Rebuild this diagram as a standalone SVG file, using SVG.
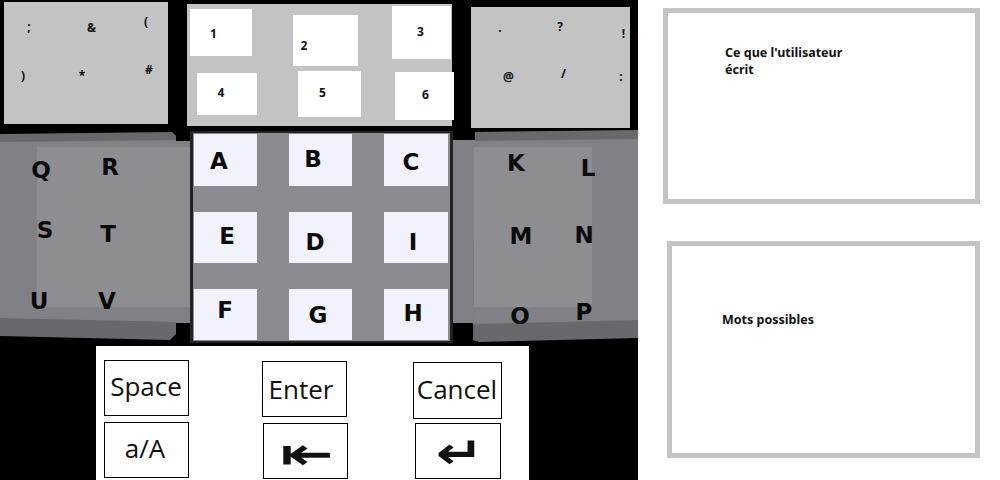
<svg xmlns="http://www.w3.org/2000/svg" width="1000" height="480" viewBox="0 0 1000 480">
<style>
.sym{font-family:"Noto Sans","Liberation Sans",sans-serif;font-weight:bold;font-size:12px;fill:#111;text-anchor:middle}
.num{font-family:"Noto Sans","Liberation Sans",sans-serif;font-weight:bold;font-size:12px;fill:#111;text-anchor:middle}
.key{font-family:"DejaVu Sans","Liberation Sans",sans-serif;font-weight:bold;font-size:23px;fill:#0a0a0a;text-anchor:middle}
.cell{fill:#f2f2fd}
.panel{fill:#c3c3c3}
.white{fill:#ffffff}
.btn{fill:#ffffff;stroke:#000;stroke-width:1}
.btxt{font-family:"Open Sans","Noto Sans",sans-serif;font-size:26px;fill:#111;text-anchor:middle}
.arrow{font-family:"DejaVu Sans",sans-serif;font-weight:bold;font-size:44px;fill:#111;text-anchor:middle}
.box{fill:#fff;stroke:#c4c4c4;stroke-width:5}
.lbl{font-family:"Noto Sans","Liberation Sans",sans-serif;font-weight:bold;font-size:12.5px;fill:#111}
.dark{fill:#68686d}
.mid{fill:#808086}
.light{fill:#8d8d92}
</style>
<rect x="0" y="0" width="1000" height="480" fill="#fff"/>
<rect x="0" y="0" width="638" height="480" fill="#000"/>

<g id="symbols-left">
<rect class="panel" x="4" y="2" width="164" height="122"/>
<text class="sym" x="29" y="31">;</text>
<text class="sym" x="91.5" y="32">&amp;</text>
<text class="sym" x="146" y="26">(</text>
<text class="sym" x="23" y="80">)</text>
<text class="sym" x="82" y="80">*</text>
<text class="sym" x="149" y="74">#</text>
</g>

<g id="numbers">
<rect class="panel" x="187" y="4" width="265" height="122"/>
<rect class="white" x="190" y="9" width="62" height="47"/>
<rect class="white" x="293" y="15" width="65" height="51"/>
<rect class="white" x="392" y="6" width="59" height="53"/>
<rect class="white" x="197" y="73" width="60" height="42"/>
<rect class="white" x="298" y="71" width="63" height="46"/>
<rect class="white" x="395" y="72" width="59" height="48"/>
<text class="num" x="213.5" y="38">1</text>
<text class="num" x="304" y="50">2</text>
<text class="num" x="420.5" y="36">3</text>
<text class="num" x="221" y="97">4</text>
<text class="num" x="322.5" y="97">5</text>
<text class="num" x="425.5" y="99">6</text>
</g>

<g id="symbols-right">
<rect class="panel" x="471" y="7" width="159" height="121"/>
<text class="sym" x="500" y="32">.</text>
<text class="sym" x="560" y="31">?</text>
<text class="sym" x="623.5" y="38">!</text>
<text class="sym" x="508.5" y="81">@</text>
<text class="sym" x="563.5" y="78">/</text>
<text class="sym" x="621" y="81">:</text>
</g>

<g id="left-keys">
<path class="dark" d="M0,134 L172,132 L176,136 L176,334 L170,340 L0,336 Z"/>
<rect class="mid" x="176" y="141" width="16" height="182"/>
<path class="mid" d="M0,142 L176,140 L176,322 L0,318 Z"/>
<rect class="light" x="37" y="147" width="153" height="160"/>
<text class="key" x="41" y="178">Q</text>
<text class="key" x="110" y="175">R</text>
<text class="key" x="45" y="238">S</text>
<text class="key" x="108" y="242">T</text>
<text class="key" x="39" y="309">U</text>
<text class="key" x="107" y="309">V</text>
</g>

<g id="right-keys">
<rect class="mid" x="450" y="140" width="25" height="183"/>
<path class="dark" d="M475,132 L638,130 L638,338 L479,342 L473,340 Z"/>
<path class="mid" d="M475,141 L638,139 L638,320 L473,324 Z"/>
<rect class="light" x="474" y="147" width="118" height="160"/>
<text class="key" x="516" y="171">K</text>
<text class="key" x="588" y="176">L</text>
<text class="key" x="521" y="244">M</text>
<text class="key" x="584" y="243">N</text>
<text class="key" x="520" y="324">O</text>
<text class="key" x="584" y="320">P</text>
</g>

<g id="center-keys">
<rect x="190" y="131" width="263" height="212" fill="#222"/>
<rect x="193" y="133" width="257" height="208" fill="#8b8b91"/>
<rect class="cell" x="194" y="134" width="63" height="52"/>
<rect class="cell" x="289" y="134" width="63" height="52"/>
<rect class="cell" x="384" y="134" width="64" height="52"/>
<rect class="cell" x="194" y="212" width="63" height="51"/>
<rect class="cell" x="289" y="212" width="63" height="51"/>
<rect class="cell" x="384" y="212" width="64" height="51"/>
<rect class="cell" x="194" y="289" width="63" height="51"/>
<rect class="cell" x="289" y="289" width="63" height="51"/>
<rect class="cell" x="384" y="289" width="64" height="51"/>
<text class="key" x="219" y="169">A</text>
<text class="key" x="313" y="167">B</text>
<text class="key" x="411" y="170">C</text>
<text class="key" x="227" y="244">E</text>
<text class="key" x="315" y="250">D</text>
<text class="key" x="413" y="250">I</text>
<text class="key" x="225" y="318">F</text>
<text class="key" x="318" y="323">G</text>
<text class="key" x="413" y="321">H</text>
</g>

<g id="controls">
<rect class="white" x="96" y="346" width="433" height="134"/>
<rect class="btn" x="104.5" y="360.5" width="84" height="55"/>
<rect class="btn" x="104.5" y="422.5" width="84" height="55"/>
<rect class="btn" x="262.5" y="361.5" width="84" height="55"/>
<rect class="btn" x="263.5" y="423.5" width="84" height="55"/>
<rect class="btn" x="413.5" y="362.5" width="88" height="56"/>
<rect class="btn" x="415.5" y="423.5" width="85" height="55"/>
<text class="btxt" x="146" y="396">Space</text>
<text class="btxt" x="301" y="399">Enter</text>
<text class="btxt" x="457" y="399">Cancel</text>
<text class="btxt" x="145" y="458">a/A</text>
<text class="arrow" transform="translate(307,469) scale(1.45,1)" x="0" y="0">⇤</text>
<text class="arrow" transform="translate(459.5,468) scale(1.3,1)" x="0" y="0">↵</text>
</g>

<g id="typed-text">
<rect class="box" x="665.5" y="10.5" width="312" height="191"/>
<text class="lbl" x="725" y="57">Ce que l'utilisateur</text>
<text class="lbl" x="725" y="74">écrit</text>
</g>

<g id="suggestions">
<rect class="box" x="669.5" y="243.5" width="308" height="212"/>
<text class="lbl" x="722" y="324">Mots possibles</text>
</g>

<g id="connectors"/>
</svg>
